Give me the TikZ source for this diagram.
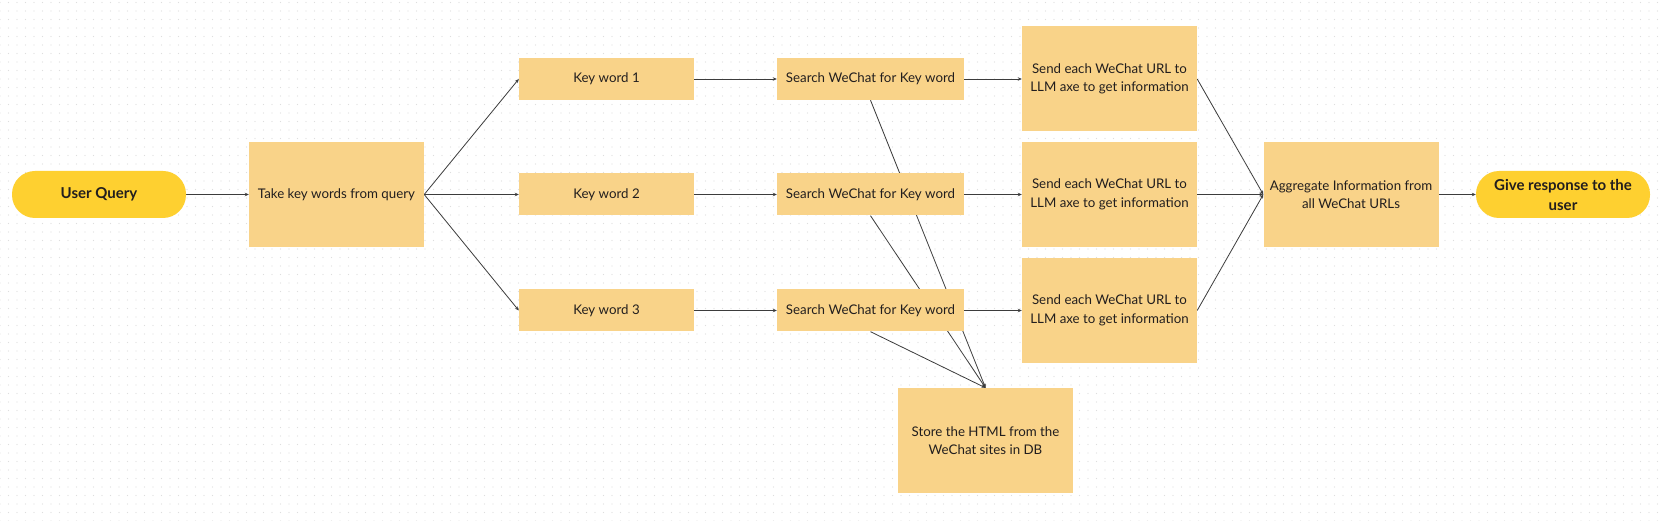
\documentclass[tikz,border=0pt]{standalone}
\usepackage{fontspec}
\setmainfont{Lato}
\usetikzlibrary{arrows.meta,patterns.meta,backgrounds}
\definecolor{boxfill}{RGB}{249,211,137}
\definecolor{termfill}{RGB}{254,208,48}
\definecolor{ink}{RGB}{34,30,30}
\definecolor{linec}{RGB}{60,60,60}
\definecolor{dotc}{RGB}{222,222,222}
\pgfdeclarelayer{edges}
\pgfsetlayers{background,edges,main}
\tikzset{
  box/.style={fill=boxfill, text=ink, font=\fontsize{13.3}{18.5}\selectfont, align=center, inner sep=0pt},
  term/.style={fill=termfill, text=ink, font=\bfseries\fontsize{15}{20}\selectfont, align=center, rounded corners=23pt, inner sep=0pt, minimum width=174pt, minimum height=47pt},
  kbox/.style={box, minimum width=175pt, minimum height=42pt},
  sbox/.style={box, minimum width=187pt, minimum height=42pt},
  bigbox/.style={box, minimum width=175pt, minimum height=105pt},
  conn/.style={draw=linec, line width=0.8pt, -{Stealth[length=4pt,width=3.5pt]}},
}
\begin{document}
\begin{tikzpicture}[x=1pt,y=-1pt]
\useasboundingbox (0,0) rectangle (1663,521);
\begin{pgfonlayer}{background}
\fill[white] (0,0) rectangle (1663,521);
\fill[pattern={Dots[distance=8.5pt,radius=0.6pt]}, pattern color=dotc] (0,0) rectangle (1663,521);
\end{pgfonlayer}

\node[term] (uq) at (99,194.5) {User Query};
\node[bigbox] (take) at (336.5,194.5) {Take key words from query};

\node[kbox] (k1) at (606.5,79) {Key word 1};
\node[kbox] (k2) at (606.5,194.5) {Key word 2};
\node[kbox] (k3) at (606.5,310.5) {Key word 3};

\node[sbox] (s1) at (870.5,79) {Search WeChat for Key word};
\node[sbox] (s2) at (870.5,194.5) {Search WeChat for Key word};
\node[sbox] (s3) at (870.5,310.5) {Search WeChat for Key word};

\node[bigbox] (l1) at (1109.5,79) {Send each WeChat URL to\\LLM axe to get information};
\node[bigbox] (l2) at (1109.5,194.5) {Send each WeChat URL to\\LLM axe to get information};
\node[bigbox] (l3) at (1109.5,310.5) {Send each WeChat URL to\\LLM axe to get information};

\node[bigbox] (store) at (985.5,440.5) {Store the HTML from the\\WeChat sites in DB};

\node[bigbox] (agg) at (1351,194.5) {Aggregate Information from\\all WeChat URLs};
\node[term] (give) at (1563,194.5) {Give response to the\\user};

\begin{pgfonlayer}{edges}
\draw[conn] (uq.east) -- (take.west);
\draw[conn] (take.east) -- (k1.west);
\draw[conn] (take.east) -- (k2.west);
\draw[conn] (take.east) -- (k3.west);
\draw[conn] (k1.east) -- (s1.west);
\draw[conn] (k2.east) -- (s2.west);
\draw[conn] (k3.east) -- (s3.west);
\draw[conn] (s1.east) -- (l1.west);
\draw[conn] (s2.east) -- (l2.west);
\draw[conn] (s3.east) -- (l3.west);
\draw[conn] (s1.south) -- (store.north);
\draw[conn] (s2.south) -- (store.north);
\draw[conn] (s3.south) -- (store.north);
\draw[conn] (l1.east) -- (agg.west);
\draw[conn] (l2.east) -- (agg.west);
\draw[conn] (l3.east) -- (agg.west);
\draw[conn] (agg.east) -- (give.west);
\end{pgfonlayer}
\end{tikzpicture}
\end{document}
